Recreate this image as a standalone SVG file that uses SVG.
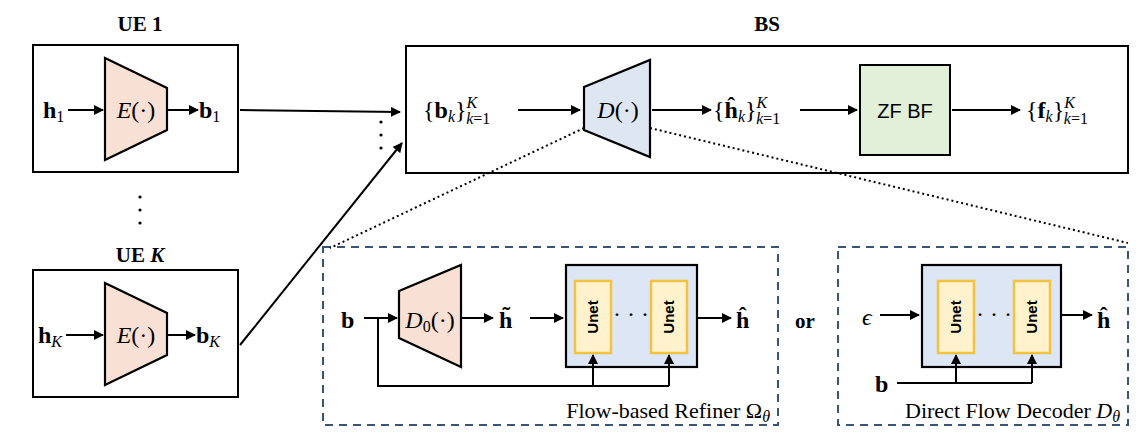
<svg xmlns="http://www.w3.org/2000/svg" width="1148" height="440" viewBox="0 0 1148 440">
<defs>
<marker id="ah" viewBox="0 0 10 10" refX="9" refY="5" markerWidth="5" markerHeight="5" orient="auto"><path d="M0,0 L10,5 L0,10 z" fill="#000"/></marker>
<style>
text{font-family:"Liberation Serif",serif;font-size:24px;fill:#000}
.t{font-weight:bold;font-size:21px}
.b{font-weight:bold}
.i{font-style:italic}
.box{fill:#fff;stroke:#000;stroke-width:2}
.enc{fill:#f8e1d4;stroke:#000;stroke-width:2.2}
.dec{fill:#dde6f1;stroke:#000;stroke-width:2.2}
.blue{fill:#dde6f4;stroke:#000;stroke-width:2.2}
.unet{fill:#fff2cc;stroke:#f4c242;stroke-width:2.5}
.ut{font-family:"Liberation Sans",sans-serif;font-weight:bold;font-size:15px}
.dash{fill:none;stroke:#3a5574;stroke-width:2;stroke-dasharray:8,6}
.ln{fill:none;stroke:#000;stroke-width:2}
.ar{fill:none;stroke:#000;stroke-width:2;marker-end:url(#ah)}
.cap{font-size:22px}
.s{font-size:16px}
</style>
</defs>
<g id="ue1">
<text x="140" y="31" class="t" text-anchor="middle">UE 1</text>
<rect x="33" y="45" width="205" height="127" class="box"/>
<polygon points="105,58 167,88 167,130 105,160" class="enc"/>
<text x="136" y="118" text-anchor="middle"><tspan class="i">E</tspan>(·)</text>
<text x="43" y="118"><tspan class="b">h</tspan><tspan class="s" dy="4">1</tspan></text>
<text x="199" y="118"><tspan class="b">b</tspan><tspan class="s" dy="4">1</tspan></text>
</g>
<g id="ueK">
<text x="140" y="262" class="t" text-anchor="middle">UE <tspan font-style="italic">K</tspan></text>
<rect x="33" y="270" width="205" height="127" class="box"/>
<polygon points="105,283 167,313 167,355 105,385" class="enc"/>
<text x="136" y="343" text-anchor="middle"><tspan class="i">E</tspan>(·)</text>
<text x="38" y="343"><tspan class="b">h</tspan><tspan class="s i" dy="4">K</tspan></text>
<text x="196" y="343"><tspan class="b">b</tspan><tspan class="s i" dy="4">K</tspan></text>
</g>
<g id="dots">
<circle cx="140" cy="197" r="1.6"/><circle cx="140" cy="210" r="1.6"/><circle cx="140" cy="223" r="1.6"/>
<circle cx="381" cy="122" r="1.6"/><circle cx="381" cy="135" r="1.6"/><circle cx="381" cy="148" r="1.6"/>
</g>
<g id="bs">
<text x="767" y="31" class="t" text-anchor="middle">BS</text>
<rect x="406" y="46" width="722" height="127" class="box"/>
<text x="423" y="118">{<tspan class="b">b</tspan><tspan class="s i" dy="4">k</tspan><tspan dy="-4">}</tspan><tspan class="s i" dy="-10">K</tspan><tspan class="s" dx="-11" dy="16"><tspan class="i">k</tspan>=1</tspan></text>
<polygon points="584,87 650,60 650,157 584,130" class="dec"/>
<text x="618" y="118" text-anchor="middle"><tspan class="i">D</tspan>(·)</text>
<text x="713" y="118">{<tspan class="b">ĥ</tspan><tspan class="s i" dy="4">k</tspan><tspan dy="-4">}</tspan><tspan class="s i" dy="-10">K</tspan><tspan class="s" dx="-11" dy="16"><tspan class="i">k</tspan>=1</tspan></text>
<rect x="860" y="65" width="90" height="90" fill="#e2efd9" stroke="#000" stroke-width="2"/>
<text x="905" y="118" text-anchor="middle" style="font-family:'Liberation Sans',sans-serif;font-size:20px">ZF BF</text>
<text x="1026" y="118">{<tspan class="b">f</tspan><tspan class="s i" dy="4">k</tspan><tspan dy="-4">}</tspan><tspan class="s i" dy="-10">K</tspan><tspan class="s" dx="-11" dy="16"><tspan class="i">k</tspan>=1</tspan></text>
</g>
<g id="refiner">
<rect x="323" y="247" width="455" height="178" class="dash"/>
<text x="341" y="328" class="b">b</text>
<polygon points="399,291 461,265 461,367 399,338" class="enc"/>
<text x="430" y="328" text-anchor="middle"><tspan class="i">D</tspan><tspan class="s" dy="4">0</tspan><tspan dy="-4">(·)</tspan></text>
<text x="499" y="328" class="b">h̃</text>
<rect x="566" y="265" width="131" height="102" class="blue"/>
<rect x="575" y="281" width="36" height="72" class="unet"/>
<rect x="651" y="281" width="36" height="72" class="unet"/>
<text class="ut" transform="translate(598,317) rotate(-90)" text-anchor="middle">Unet</text>
<text class="ut" transform="translate(674,317) rotate(-90)" text-anchor="middle">Unet</text>
<text x="631" y="322" text-anchor="middle">· · ·</text>
<text x="736" y="328" class="b">ĥ</text>
<text x="770" y="418" class="cap" text-anchor="end">Flow-based Refiner Ω<tspan class="s i" dy="4">θ</tspan></text>
</g>
<text x="805" y="328" class="t" text-anchor="middle">or</text>
<g id="direct">
<rect x="838" y="247" width="290" height="178" class="dash"/>
<text x="862" y="325" class="i">ϵ</text>
<rect x="922" y="265" width="139" height="102" class="blue"/>
<rect x="938" y="281" width="36" height="72" class="unet"/>
<rect x="1014" y="281" width="36" height="72" class="unet"/>
<text class="ut" transform="translate(961,317) rotate(-90)" text-anchor="middle">Unet</text>
<text class="ut" transform="translate(1037,317) rotate(-90)" text-anchor="middle">Unet</text>
<text x="994" y="322" text-anchor="middle">· · ·</text>
<text x="1097" y="328" class="b">ĥ</text>
<text x="875" y="392" class="b">b</text>
<text x="1120" y="418" class="cap" text-anchor="end">Direct Flow Decoder <tspan class="i">D</tspan><tspan class="s i" dy="4">θ</tspan></text>
</g>
<g id="connectors">
<line x1="68" y1="110" x2="103" y2="110" class="ar"/>
<line x1="168" y1="110" x2="198" y2="110" class="ar"/>
<line x1="66" y1="335" x2="103" y2="335" class="ar"/>
<line x1="168" y1="335" x2="195" y2="335" class="ar"/>
<line x1="240" y1="110" x2="400" y2="112" class="ar"/>
<line x1="240" y1="345" x2="402" y2="143" class="ar"/>
<line x1="518" y1="110" x2="580" y2="110" class="ar"/>
<line x1="652" y1="110" x2="711" y2="110" class="ar"/>
<line x1="800" y1="110" x2="857" y2="110" class="ar"/>
<line x1="952" y1="110" x2="1020" y2="110" class="ar"/>
<line x1="584" y1="128" x2="330" y2="248" stroke="#000" stroke-width="2" stroke-dasharray="2,3"/>
<line x1="650" y1="128" x2="1128" y2="243" stroke="#000" stroke-width="2" stroke-dasharray="2,3"/>
<line x1="364" y1="318" x2="397" y2="318" class="ar"/>
<polyline points="378,318 378,386 669,386" class="ln"/>
<line x1="593" y1="386" x2="593" y2="355" class="ar"/>
<line x1="669" y1="386" x2="669" y2="355" class="ar"/>
<line x1="462" y1="318" x2="493" y2="318" class="ar"/>
<line x1="530" y1="318" x2="563" y2="318" class="ar"/>
<line x1="698" y1="318" x2="731" y2="318" class="ar"/>
<line x1="880" y1="315" x2="919" y2="315" class="ar"/>
<line x1="1062" y1="315" x2="1092" y2="315" class="ar"/>
<polyline points="897,383 1032,383" class="ln"/>
<line x1="956" y1="383" x2="956" y2="355" class="ar"/>
<line x1="1032" y1="383" x2="1032" y2="355" class="ar"/>
</g>
</svg>
